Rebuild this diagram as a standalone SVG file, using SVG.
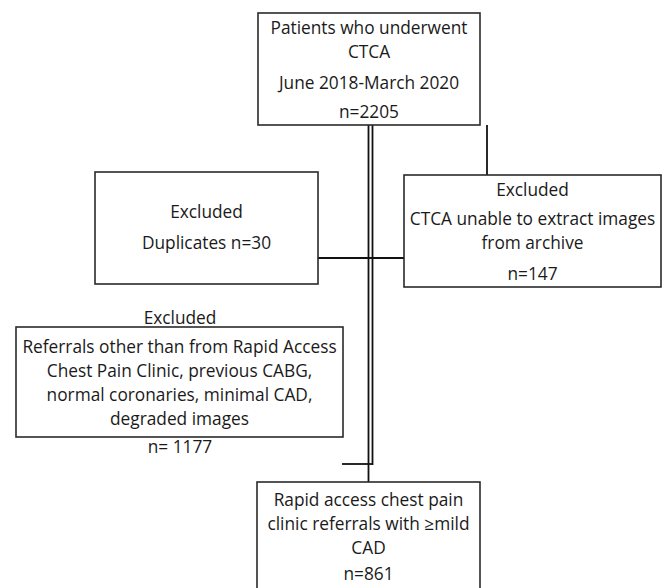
<svg xmlns="http://www.w3.org/2000/svg" width="671" height="588" viewBox="0 0 671 588">
<style>
.box{fill:#fff;stroke:#2a2a2a;stroke-width:1.6}
.ln{stroke:#111;stroke-width:1.8;fill:none}
text{font-family:"Open Sans","Noto Sans",sans-serif;font-size:17.3px;fill:#1a1a1a;text-anchor:middle}
</style>
<rect width="671" height="588" fill="#fff"/>
<g id="connectors">
<line class="ln" x1="368.5" y1="125" x2="368.5" y2="482"/>
<line class="ln" x1="372.5" y1="125" x2="372.5" y2="465"/>
<line class="ln" x1="342" y1="464" x2="373" y2="464"/>
<line class="ln" x1="318" y1="258" x2="404" y2="258"/>
<line class="ln" x1="487" y1="125" x2="487" y2="175"/>
</g>
<g id="n1">
<rect class="box" x="258" y="13" width="222" height="112"/>
<text x="369" y="34">Patients who underwent</text>
<text x="369" y="58">CTCA</text>
<text x="369" y="89">June 2018-March 2020</text>
<text x="369" y="118">n=2205</text>
</g>
<g id="n2">
<rect class="box" x="95" y="172" width="223" height="112"/>
<text x="206.5" y="218">Excluded</text>
<text x="206.5" y="249">Duplicates n=30</text>
</g>
<g id="n3">
<rect class="box" x="404" y="175" width="257" height="112"/>
<text x="532.5" y="196">Excluded</text>
<text x="532.5" y="225">CTCA unable to extract images</text>
<text x="532.5" y="249">from archive</text>
<text x="532.5" y="280">n=147</text>
</g>
<g id="n4">
<text x="180" y="324">Excluded</text>
<rect class="box" x="16" y="327" width="327" height="110"/>
<text x="179.5" y="353">Referrals other than from Rapid Access</text>
<text x="179.5" y="377">Chest Pain Clinic, previous CABG,</text>
<text x="179.5" y="401">normal coronaries, minimal CAD,</text>
<text x="179.5" y="425">degraded images</text>
<text x="180" y="453">n= 1177</text>
</g>
<g id="n5">
<rect class="box" x="257" y="482" width="223" height="110"/>
<text x="368.5" y="506">Rapid access chest pain</text>
<text x="368.5" y="530">clinic referrals with ≥mild</text>
<text x="368.5" y="554">CAD</text>
<text x="368.5" y="580">n=861</text>
</g>
</svg>
